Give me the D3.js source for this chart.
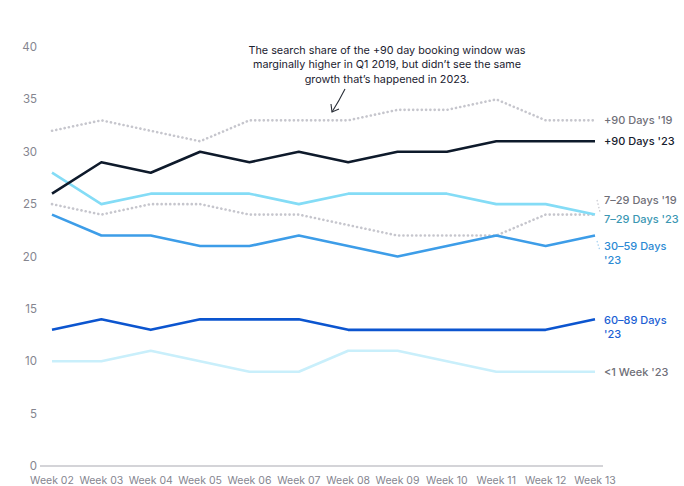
<!DOCTYPE html>
<html>
<head>
<meta charset="utf-8">
<script src="https://cdn.jsdelivr.net/npm/d3@7"></script>
<style>
  body { margin: 0; background: #fff; }
  svg { display: block; }
</style>
</head>
<body>
<div id="chart"></div>
<script>
// weeks on the x axis
const weeks = ["Week 02","Week 03","Week 04","Week 05","Week 06","Week 07","Week 08","Week 09","Week 10","Week 11","Week 12","Week 13"];
const yTicks = [0, 5, 10, 15, 20, 25, 30, 35, 40];

// search share per booking window
const days90_19 = [32, 33, 32, 31, 33, 33, 33, 34, 34, 35, 33, 33];
const days90_23 = [26, 29, 28, 30, 29, 30, 29, 30, 30, 31, 31, 31];
const days729_23 = [28, 25, 26, 26, 26, 25, 26, 26, 26, 25, 25, 24];
const days729_19 = [25, 24, 25, 25, 24, 24, 23, 22, 22, 22, 24, 24];
const days3059_23 = [24, 22, 22, 21, 21, 22, 21, 20, 21, 22, 21, 22];
const days6089_23 = [13, 14, 13, 14, 14, 14, 13, 13, 13, 13, 13, 14];
const week1_23 = [10, 10, 11, 10, 9, 9, 11, 11, 10, 9, 9, 9];

const series = [
  { name: "+90 Days '19", values: days90_19, color: "#c6c6cd", dotted: true, label: ["+90 Days '19"], labelColor: "#6f6f78", ly: 124 },
  { name: "7-29 Days '19", values: days729_19, color: "#c6c6cd", dotted: true, label: ["7\u201329 Days '19"], labelColor: "#6f6f78", ly: 204 },
  { name: "<1 Week '23", values: week1_23, color: "#c9effb", label: ["<1 Week '23"], labelColor: "#6f6f78", ly: 376 },
  { name: "7-29 Days '23", values: days729_23, color: "#84dcf6", label: ["7\u201329 Days '23"], labelColor: "#3b97b3", ly: 223 },
  { name: "30-59 Days '23", values: days3059_23, color: "#3d9de8", label: ["30\u201359 Days", "'23"], labelColor: "#2c8ad4", ly: 250 },
  { name: "60-89 Days '23", values: days6089_23, color: "#0c55cf", label: ["60\u201389 Days", "'23"], labelColor: "#1b5fd4", ly: 324 },
  { name: "+90 Days '23", values: days90_23, color: "#0e1a2b", label: ["+90 Days '23"], labelColor: "#16202e", ly: 145 }
];

const width = 684, height = 486;

const svg = d3.select("#chart")
  .append("svg")
  .attr("width", width)
  .attr("height", height)
  .style("font-family", "Inter, 'Noto Sans', sans-serif");

const x = d3.scalePoint()
  .domain(weeks)
  .range([52, 595]);

const y = d3.scaleLinear()
  .domain([0, 40])
  .range([466, 47]);

// y tick labels (no axis line)
svg.append("g")
  .selectAll("text")
  .data(yTicks)
  .join("text")
  .attr("x", 37)
  .attr("y", d => y(d))
  .attr("dy", "0.35em")
  .attr("text-anchor", "end")
  .attr("fill", "#85858f")
  .style("font-size", "11.5px")
  .text(d => d);

// baseline
svg.append("line")
  .attr("x1", 40)
  .attr("x2", 603)
  .attr("y1", y(0))
  .attr("y2", y(0))
  .attr("stroke", "#a9a9b1")
  .attr("stroke-width", 1.2);

// x labels
svg.append("g")
  .selectAll("text")
  .data(weeks)
  .join("text")
  .attr("x", d => x(d))
  .attr("y", 480)
  .attr("dy", "0.35em")
  .attr("text-anchor", "middle")
  .attr("fill", "#85858f")
  .style("font-size", "10.5px")
  .text(d => d);

const line = d3.line()
  .x((d, i) => x(weeks[i]))
  .y(d => y(d));

svg.append("g")
  .selectAll("path")
  .data(series)
  .join("path")
  .attr("d", d => line(d.values))
  .attr("fill", "none")
  .attr("stroke", d => d.color)
  .attr("stroke-width", 2.6)
  .attr("stroke-linecap", d => d.dotted ? "round" : "butt")
  .attr("stroke-linejoin", "round")
  .attr("stroke-dasharray", d => d.dotted ? "0.1 4.2" : null);

// right-hand labels
const labels = svg.append("g")
  .selectAll("text")
  .data(series)
  .join("text")
  .attr("x", 604)
  .attr("y", d => d.ly)
  .attr("dy", "0.35em")
  .attr("fill", d => d.labelColor)
  .style("font-size", "11px")
  .style("font-weight", 500);

labels.selectAll("tspan")
  .data(d => d.label)
  .join("tspan")
  .attr("x", 604)
  .attr("dy", (d, i) => i === 0 ? 0 : 14)
  .text(d => d);

// little dotted leaders
const leaders = [
  { from: [597, 200], to: [600, 212], color: "#c6c6cd" },
  { from: [597, 241], to: [600, 251], color: "#9fcdf0" }
];
svg.append("g")
  .selectAll("line")
  .data(leaders)
  .join("line")
  .attr("x1", d => d.from[0])
  .attr("y1", d => d.from[1])
  .attr("x2", d => d.to[0])
  .attr("y2", d => d.to[1])
  .attr("stroke", d => d.color)
  .attr("stroke-width", 1.2)
  .attr("stroke-dasharray", "1.5 2");

// annotation
const note = ["The search share of the +90 day booking window was",
  "marginally higher in Q1 2019, but didn\u2019t see the same",
  "growth that\u2019s happened in 2023."];
svg.append("text")
  .attr("x", 387)
  .attr("y", 50)
  .attr("fill", "#1b2230")
  .style("font-size", "10.8px")
  .attr("text-anchor", "middle")
  .selectAll("tspan")
  .data(note)
  .join("tspan")
  .attr("x", 387)
  .attr("dy", (d, i) => i === 0 ? "0.35em" : 14.5)
  .text(d => d);

// arrow
svg.append("path")
  .attr("d", "M345,89 Q339,101 332,112")
  .attr("fill", "none")
  .attr("stroke", "#2a2f38")
  .attr("stroke-width", 1.1);
svg.append("path")
  .attr("d", "M331,104 L332,112 L339,109")
  .attr("fill", "none")
  .attr("stroke", "#2a2f38")
  .attr("stroke-width", 1.1);
</script>
</body>
</html>
